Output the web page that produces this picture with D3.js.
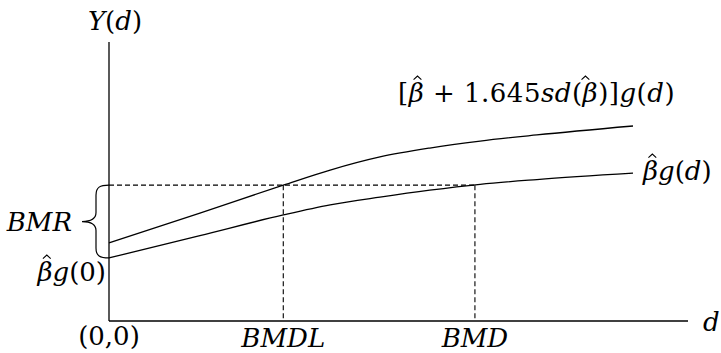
<!DOCTYPE html>
<html>
<head>
<meta charset="utf-8">
<script src="https://cdn.jsdelivr.net/npm/d3@7"></script>
<style>
  body { margin: 0; background: #fff; }
  text { font-family: "DejaVu Serif", serif; fill: #000; }
  .it { font-style: italic; }
</style>
</head>
<body>
<script>
// dose values (d), on a 0..100 scale
const dose = [0, 15.7, 30.1, 38.2, 46.8, 55.4, 64.1, 73.9, 90.5];
// upper bound curve [beta + 1.645 sd(beta)] g(d)
const upperY = [28.0, 38.7, 48.7, 54.1, 58.8, 62.0, 64.5, 66.7, 69.9];
// fitted curve beta g(d)
const lowerY = [22.6, 30.6, 38.0, 41.6, 44.4, 46.9, 49.0, 50.7, 53.0];
// benchmark values
const BMR = 48.7;
const BMDL = 30.1;
const BMD = 63.2;

const width = 721, height = 353;

const svg = d3.select("body")
    .append("svg")
    .attr("width", width)
    .attr("height", height);

const x = d3.scaleLinear().domain([0, 100]).range([109, 688]);
const y = d3.scaleLinear().domain([0, 100]).range([321, 42]);

// axes
svg.append("line")
    .attr("x1", x(0)).attr("x2", x(0))
    .attr("y1", y(0)).attr("y2", y(100))
    .attr("stroke", "#000").attr("stroke-width", 1.3);
svg.append("line")
    .attr("x1", x(0)).attr("x2", x(100))
    .attr("y1", y(0)).attr("y2", y(0))
    .attr("stroke", "#000").attr("stroke-width", 1.3);

// dashed guides
const dash = "5,3";
svg.append("line")
    .attr("x1", x(0)).attr("x2", x(BMD))
    .attr("y1", y(BMR)).attr("y2", y(BMR))
    .attr("stroke", "#000").attr("stroke-width", 1.1)
    .attr("stroke-dasharray", dash);
[BMDL, BMD].forEach(v => {
    svg.append("line")
        .attr("x1", x(v)).attr("x2", x(v))
        .attr("y1", y(BMR)).attr("y2", y(0))
        .attr("stroke", "#000").attr("stroke-width", 1.1)
        .attr("stroke-dasharray", dash);
});

// curves
const line = d3.line()
    .x((d, i) => x(dose[i]))
    .y(d => y(d))
    .curve(d3.curveMonotoneX);

svg.append("path")
    .attr("d", line(upperY))
    .attr("fill", "none").attr("stroke", "#000").attr("stroke-width", 1.3);
svg.append("path")
    .attr("d", line(lowerY))
    .attr("fill", "none").attr("stroke", "#000").attr("stroke-width", 1.3);

// brace for BMR
const bx = x(0), bTop = y(BMR), bBot = y(lowerY[0]), bMid = (bTop + bBot) / 2;
const brace = d3.path();
brace.moveTo(bx, bTop);
brace.bezierCurveTo(bx - 9, bTop, bx - 13, bTop + 2, bx - 13, bTop + 10);
brace.lineTo(bx - 13, bMid - 9);
brace.bezierCurveTo(bx - 13, bMid - 2, bx - 20, bMid, bx - 27, bMid);
brace.bezierCurveTo(bx - 20, bMid, bx - 13, bMid + 2, bx - 13, bMid + 9);
brace.lineTo(bx - 13, bBot - 10);
brace.bezierCurveTo(bx - 13, bBot - 2, bx - 9, bBot, bx, bBot);
svg.append("path")
    .attr("d", brace.toString())
    .attr("fill", "none").attr("stroke", "#000").attr("stroke-width", 1.2);

// labels: each is a list of [text, italic]; every beta gets a hat
function label(parts, px, py, anchor, size) {
    const t = svg.append("text")
        .attr("x", px).attr("y", py)
        .attr("text-anchor", anchor)
        .attr("font-size", size);
    parts.forEach(p => {
        t.append("tspan").attr("class", p[1] ? "it" : null).text(p[0]);
    });
    const node = t.node();
    const str = node.textContent;
    for (let i = 0; i < str.length; i++) {
        if (str[i] !== "β") continue;
        const e = node.getExtentOfChar(i);
        const cx = e.x + e.width / 2 + size * 0.07;
        const w = size * 0.15;
        svg.append("path")
            .attr("d", `M${cx - w},${py - size * 0.86} L${cx},${py - size * 1.0} L${cx + w},${py - size * 0.86}`)
            .attr("fill", "none").attr("stroke", "#000").attr("stroke-width", 1.1);
    }
    return t;
}

const fs = 26;
label([["Y", 1], ["(", 0], ["d", 1], [")", 0]], 115, 30, "middle", fs);
label([["BMR", 1]], 72, 231, "end", fs);
label([["βg", 1], ["(0)", 0]], 106, 281, "end", fs);
label([["(0,0)", 0]], x(0), 345, "middle", fs);
label([["BMDL", 1]], x(BMDL), 347, "middle", fs);
label([["BMD", 1]], x(BMD), 347, "middle", fs);
label([["d", 1]], 703, 331, "start", fs);
label([["[", 0], ["β", 1], [" + 1.645", 0], ["sd", 1], ["(", 0], ["β", 1], [")]", 0], ["g", 1], ["(", 0], ["d", 1], [")", 0]], 398, 102, "start", fs)
    .attr("letter-spacing", 0.5);
label([["βg", 1], ["(", 0], ["d", 1], [")", 0]], 643, 180, "start", fs);
</script>
</body>
</html>
